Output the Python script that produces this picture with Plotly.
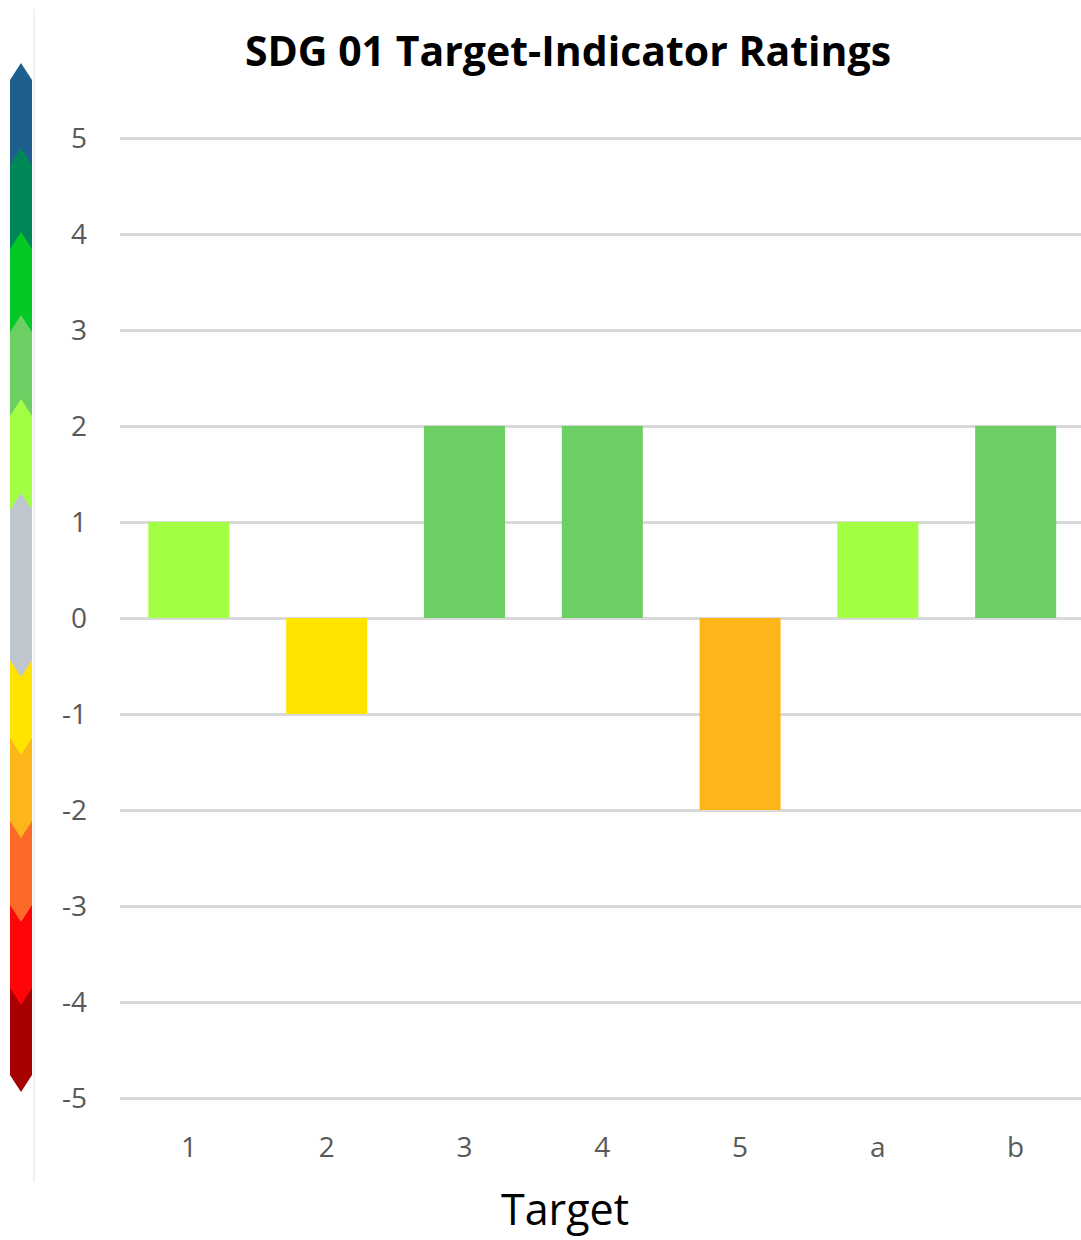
import plotly.graph_objects as go

# ---- data ----
targets = ["1", "2", "3", "4", "5", "a", "b"]
ratings = [1, -1, 2, 2, -2, 1, 2]

scale_levels = [5, 4, 3, 2, 1, 0, -1, -2, -3, -4, -5]
scale_colors = ["#1F5F8E", "#008757", "#03C825", "#6CCF63", "#A3FF44",
                "#C0C6CE", "#FFE400", "#FDB61A", "#FC6A28", "#FF0508", "#A60000"]
level_color = dict(zip(scale_levels, scale_colors))

y_ticks = [5, 4, 3, 2, 1, 0, -1, -2, -3, -4, -5]

# ---- layout constants (pixels) ----
W, H = 1081, 1240
L, R, T, B = 120, 0, 110, 112
PW, PH = W - L - R, H - T - B


def px(x):
    return (x - L) / PW


def py(y):
    return (H - B - y) / PH


fig = go.Figure()
fig.add_trace(go.Bar(
    x=targets, y=ratings,
    marker=dict(color=[level_color[v] for v in ratings], line=dict(width=0)),
    hoverinfo="x+y",
))

shapes = []
# decorative rating scale on the left (chevron segments)
x0, x1 = 10, 32
xm = (x0 + x1) / 2
h = 17
up_tips = [63, 148, 232, 315, 399]          # levels 5..1 top tips
grey_top, grey_bot = 493, 677
down_tips = [755, 838, 922, 1005, 1092]      # levels -1..-5 bottom tips


def poly(pts):
    d = "M " + " L ".join(f"{px(a):.5f},{py(b):.5f}" for a, b in pts) + " Z"
    return d


# upper segments, drawn top-down so the lower chevron overlays
for i, lvl in enumerate([5, 4, 3, 2, 1]):
    t = up_tips[i]
    nxt = up_tips[i + 1] if i + 1 < len(up_tips) else grey_top
    bot = nxt + h + 4
    shapes.append(dict(type="path", xref="paper", yref="paper",
                       path=poly([(xm, t), (x1, t + h), (x1, bot), (x0, bot), (x0, t + h)]),
                       fillcolor=level_color[lvl], line=dict(width=0), layer="above"))
# lower segments, drawn bottom-up
lower = [-1, -2, -3, -4, -5]
for i in range(len(lower) - 1, -1, -1):
    lvl = lower[i]
    b = down_tips[i]
    prev = down_tips[i - 1] if i > 0 else grey_bot
    top = prev - h - 4
    shapes.append(dict(type="path", xref="paper", yref="paper",
                       path=poly([(x0, top), (x1, top), (x1, b - h), (xm, b), (x0, b - h)]),
                       fillcolor=level_color[lvl], line=dict(width=0), layer="above"))
# grey neutral segment on top
shapes.append(dict(type="path", xref="paper", yref="paper",
                   path=poly([(xm, grey_top), (x1, grey_top + h), (x1, grey_bot - h),
                              (xm, grey_bot), (x0, grey_bot - h), (x0, grey_top + h)]),
                   fillcolor=level_color[0], line=dict(width=0), layer="above"))
# thin separator line
shapes.append(dict(type="line", xref="paper", yref="paper",
                   x0=px(34), x1=px(34), y0=py(9), y1=py(1182),
                   line=dict(color="#E2E2E2", width=1)))

fig.update_layout(
    width=W, height=H,
    margin=dict(l=L, r=R, t=T, b=B, pad=0),
    paper_bgcolor="white", plot_bgcolor="white",
    showlegend=False,
    bargap=0.412,
    title=dict(text="<b>SDG 01 Target-Indicator Ratings</b>",
               x=568 / W, xanchor="center", xref="container",
               y=1 - 52 / H, yanchor="middle", yref="container",
               font=dict(family="Open Sans", size=41, color="black")),
    xaxis=dict(range=[-0.5, 6.474], showgrid=False, zeroline=False,
               showline=False, ticks="",
               tickfont=dict(family="Open Sans", size=28, color="#595959"),
               ticklabelstandoff=0),
    yaxis=dict(range=[-5.3125, 5.2917], tickvals=y_ticks,
               ticktext=[str(v) for v in y_ticks],
               showgrid=True, gridcolor="#D9D9D9", gridwidth=3,
               zeroline=True, zerolinecolor="#D9D9D9", zerolinewidth=3,
               showline=False, ticks="",
               tickfont=dict(family="Open Sans", size=28, color="#595959"),
               ticklabelstandoff=32),
    shapes=shapes,
    annotations=[dict(text="Target", xref="paper", yref="paper",
                      x=px(565), y=py(1208), xanchor="center", yanchor="middle",
                      showarrow=False,
                      font=dict(family="Open Sans", size=43, color="black"))],
)

fig.write_html("out.html",
               config={"displayModeBar": False},
               post_script="document.body.style.margin='0';document.body.style.padding='0';")
